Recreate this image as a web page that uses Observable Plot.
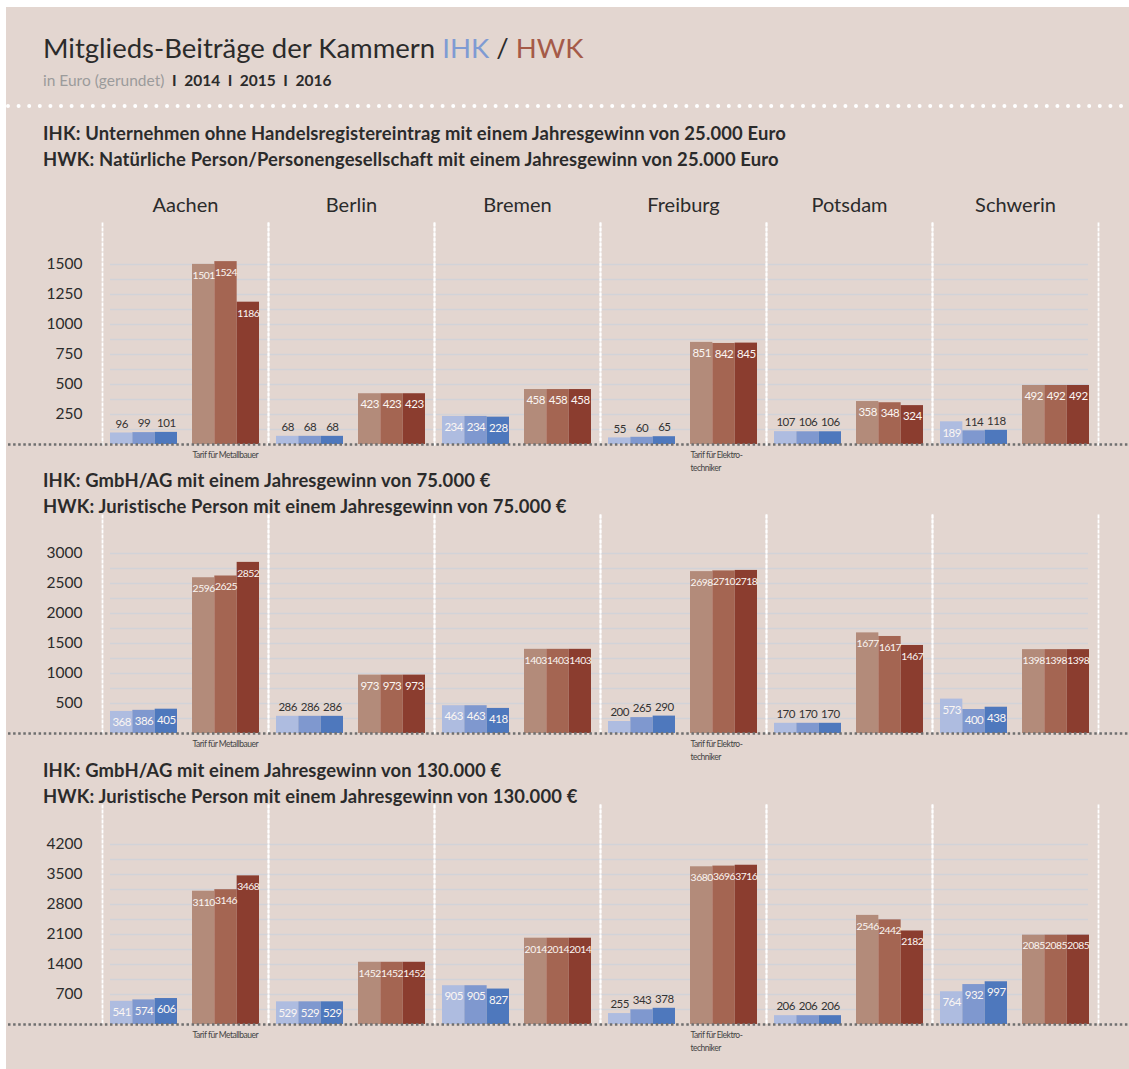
<!DOCTYPE html>
<html><head><meta charset="utf-8">
<script src="https://cdn.jsdelivr.net/npm/d3@7"></script>
<script src="https://cdn.jsdelivr.net/npm/@observablehq/plot@0.6"></script>
<style>
body{margin:0;background:#fff;width:1129px;height:1069px;position:relative;overflow:hidden;font-family:Lato,"Noto Sans",sans-serif;color:#2b2b2b}
#panel{position:absolute;left:6px;top:7px;right:0;bottom:0;background:#e3d6d0}
.abs{position:absolute;white-space:nowrap}
.title{left:43px;top:32px;font-size:27.5px;line-height:32px;color:#2b2b2b}
.title .ihk{color:#7f9bd3}.title .hwk{color:#a55a48}
.sub{left:43px;top:71px;font-size:15.5px;line-height:18px;color:#9b9b9b}
.sub b{color:#2b2b2b;font-weight:700}
.head{left:43px;font-size:18.4px;line-height:20px;font-weight:700;color:#2b2b2b;letter-spacing:0.15px}
.chart{position:absolute;left:0}
.chart svg{overflow:visible}
[aria-label^="fx-axis"] text{font-size:20px;fill:#2b2b2b}
.chart g[aria-label="text"]{letter-spacing:-0.5px}
</style></head>
<body>
<div id="panel"></div>
<svg class="abs" style="left:0;top:103px" width="1129" height="6"><line x1="8" x2="1129" y1="3" y2="3" stroke="#fff" stroke-width="4" stroke-linecap="round" stroke-dasharray="0 10.6"/></svg>
<div class="abs title">Mitglieds-Beiträge der Kammern <span class="ihk">IHK</span> / <span class="hwk">HWK</span></div>
<div class="abs sub">in Euro (gerundet) <b>&nbsp;I&nbsp; 2014 &nbsp;I&nbsp; 2015 &nbsp;I&nbsp; 2016</b></div>
<div class="abs head" style="top:123px">IHK: Unternehmen ohne Handelsregistereintrag mit einem Jahresgewinn von 25.000 Euro</div>
<div class="abs head" style="top:149px">HWK: Natürliche Person/Personengesellschaft mit einem Jahresgewinn von 25.000 Euro</div>
<div class="abs head" style="top:470px">IHK: GmbH/AG mit einem Jahresgewinn von 75.000 €</div>
<div class="abs head" style="top:496px">HWK: Juristische Person mit einem Jahresgewinn von 75.000 €</div>
<div class="abs head" style="top:760px">IHK: GmbH/AG mit einem Jahresgewinn von 130.000 €</div>
<div class="abs head" style="top:786px">HWK: Juristische Person mit einem Jahresgewinn von 130.000 €</div>
<div id="c1" class="chart" style="top:170px"></div>
<div id="c2" class="chart" style="top:505px"></div>
<div id="c3" class="chart" style="top:795px"></div>
<script>
// ---------- data ----------
const cities = ["Aachen", "Berlin", "Bremen", "Freiburg", "Potsdam", "Schwerin"];
const years = [2014, 2015, 2016];
const chambers = ["IHK", "HWK"];

// Section 1: Jahresgewinn 25.000 Euro
const ihk25 = [[96, 99, 101], [68, 68, 68], [234, 234, 228], [55, 60, 65], [107, 106, 106], [189, 114, 118]];
const hwk25 = [[1501, 1524, 1186], [423, 423, 423], [458, 458, 458], [851, 842, 845], [358, 348, 324], [492, 492, 492]];
// Section 2: Jahresgewinn 75.000 €
const ihk75 = [[368, 386, 405], [286, 286, 286], [463, 463, 418], [200, 265, 290], [170, 170, 170], [573, 400, 438]];
const hwk75 = [[2596, 2625, 2852], [973, 973, 973], [1403, 1403, 1403], [2698, 2710, 2718], [1677, 1617, 1467], [1398, 1398, 1398]];
// Section 3: Jahresgewinn 130.000 €
const ihk130 = [[541, 574, 606], [529, 529, 529], [905, 905, 827], [255, 343, 378], [206, 206, 206], [764, 932, 997]];
const hwk130 = [[3110, 3146, 3468], [1452, 1452, 1452], [2014, 2014, 2014], [3680, 3696, 3716], [2546, 2442, 2182], [2085, 2085, 2085]];

// y-axis tick labels
const ticks25 = [250, 500, 750, 1000, 1250, 1500];
const ticks75 = [500, 1000, 1500, 2000, 2500, 3000];
const ticks130 = [700, 1400, 2100, 2800, 3500, 4200];

// notes below bars
const noteCities = ["Aachen", "Freiburg"];
const noteTexts = ["Tarif für Metallbauer", "Tarif für Elektro-\ntechniker"];

// colours
const colorKeys = ["IHK-2014", "IHK-2015", "IHK-2016", "HWK-2014", "HWK-2015", "HWK-2016"];
const colorRange = ["#aebce0", "#7f98cf", "#4e78bd", "#b38b7a", "#a46552", "#8b3d2f"];

// ---------- layout ----------
const W = 1129, ML = 100, MR = 30, PANEL_LEFT = 6, TICK_H = 180;

function makeChart(el, ihk, hwk, ticks, opt) {
  const rows = [];
  cities.forEach((c, ci) => years.forEach((y, yi) => {
    rows.push({city: c, chamber: "IHK", year: y, yi, value: ihk[ci][yi]});
    rows.push({city: c, chamber: "HWK", year: y, yi, value: hwk[ci][yi]});
  }));
  const tMax = ticks[ticks.length - 1];
  const step = ticks[1] - ticks[0];
  const grid = d3.range(step / 2, tMax + 1, step / 2);
  const notes = noteCities.map((c, i) => ({city: c, text: noteTexts[i]}));
  const MT = opt.mt, FH = opt.fh, MB = 45;
  const base = MT + FH;
  const labelSize = d => d.value >= 1000 ? 10.4 : 11.5;

  const build = (bw, fxBw) => {
    const marks = [];
    // grid
    const gridRows = (cs) => cs.flatMap(c => grid.map(g => ({city: c, g})));
    const gStyle = {fx: "city", y: "g", stroke: "#d2d3d8", strokeWidth: 1.5};
    marks.push(Plot.ruleY(gridRows([cities[0]]), {...gStyle, insetLeft: 8}));
    marks.push(Plot.ruleY(gridRows(cities.slice(1, -1)), gStyle));
    marks.push(Plot.ruleY(gridRows([cities[cities.length - 1]]), {...gStyle, insetRight: 10}));
    // dotted separators
    marks.push(Plot.frame({anchor: "left", stroke: "#fff", strokeWidth: 1.8, strokeDasharray: "2,3"}));
    marks.push(Plot.frame({anchor: "right", stroke: "#fff", strokeWidth: 1.8, strokeDasharray: "2,3"}));
    // bars
    years.forEach((y, i) => {
      marks.push(Plot.barY(rows.filter(d => d.yi === i), {
        fx: "city", x: "chamber", y: "value", fill: d => d.chamber + "-" + d.year,
        insetLeft: i * bw / 3, insetRight: (2 - i) * bw / 3
      }));
    });
    // baseline (dotted, spans whole panel width)
    marks.push(Plot.ruleY([cities[0]], {
      fx: d => d, y: () => 0, stroke: "#6f6f6f", strokeWidth: 2.5, strokeDasharray: "2.5,2.6",
      insetLeft: -(ML - PANEL_LEFT), insetRight: fxBw - (W - ML)
    }));
    // value labels
    const inside = d => d.value / tMax * TICK_H > 20;
    years.forEach((y, i) => {
      const r = rows.filter(d => d.yi === i);
      marks.push(Plot.text(r.filter(inside), {
        fx: "city", x: "chamber", y: "value", text: d => String(d.value),
        dx: (i - 1) * bw / 3, dy: 11, fill: "#fbf6f3", fontSize: labelSize
      }));
      marks.push(Plot.text(r.filter(d => !inside(d)), {
        fx: "city", x: "chamber", y: "value", text: d => String(d.value),
        dx: (i - 1) * bw / 3, dy: -9, fill: "#333", fontSize: labelSize
      }));
    });
    // notes
    marks.push(Plot.text(notes, {
      fx: "city", x: () => "HWK", y: () => 0, text: "text", textAnchor: "start", lineAnchor: "top",
      dx: -bw / 2, dy: 5, fontSize: 8.5, fill: "#444", lineHeight: 1.45
    }));
    return Plot.plot({
      width: W, height: MT + FH + MB,
      marginLeft: ML, marginRight: MR, marginTop: MT, marginBottom: MB,
      style: {background: "transparent", fontFamily: "Lato, 'Noto Sans', sans-serif", fontSize: "15.5px", color: "#2b2b2b"},
      fx: {domain: cities, padding: 0, label: null, axis: opt.cityAxis ? "top" : null, tickSize: 0, tickPadding: 12},
      x: {domain: chambers, paddingInner: 0.18, paddingOuter: 0.096, axis: null},
      y: {domain: [0, tMax], range: [base, base - TICK_H], ticks, tickSize: 0, tickPadding: 20, tickFormat: d => String(d), label: null},
      color: {domain: colorKeys, range: colorRange},
      marks
    });
  };
  let p = build(60, 160);
  const bw = p.scale("x").bandwidth;
  const fxBw = p.scale("fx").bandwidth;
  p = build(bw, fxBw);
  el.appendChild(p);
}

makeChart(document.getElementById("c1"), ihk25, hwk25, ticks25, {mt: 53, fh: 221, cityAxis: true});
makeChart(document.getElementById("c2"), ihk75, hwk75, ticks75, {mt: 10, fh: 218, cityAxis: false});
makeChart(document.getElementById("c3"), ihk130, hwk130, ticks130, {mt: 10, fh: 219, cityAxis: false});
</script>
</body></html>
